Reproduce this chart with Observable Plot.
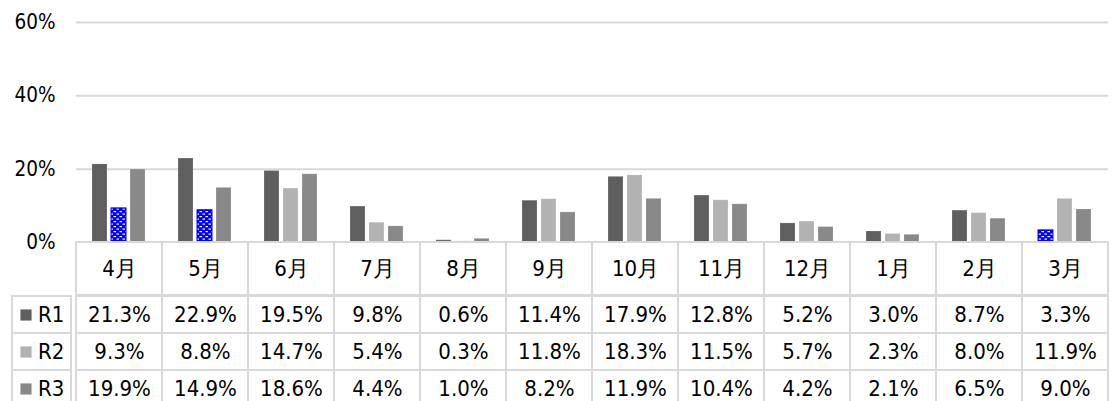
<!DOCTYPE html>
<html><head><meta charset="utf-8">
<script src="https://cdn.jsdelivr.net/npm/d3@7"></script>
<script src="https://cdn.jsdelivr.net/npm/@observablehq/plot@0.6"></script>
<style>
body{margin:0;background:#fff;}
#wrap{position:relative;width:1116px;height:401px;overflow:hidden;}
#wrap svg{position:absolute;overflow:visible;}
#wrap svg text{font-family:"DejaVu Sans Condensed","DejaVu Sans",sans-serif;font-stretch:semi-condensed;}
</style></head><body><div id="wrap"></div>
<script>
const months = ["4月","5月","6月","7月","8月","9月","10月","11月","12月","1月","2月","3月"];
const series = ["R1","R2","R3"];
const r1 = [21.3,22.9,19.5,9.8,0.6,11.4,17.9,12.8,5.2,3.0,8.7,3.3];
const r2 = [9.3,8.8,14.7,5.4,0.3,11.8,18.3,11.5,5.7,2.3,8.0,11.9];
const r3 = [19.9,14.9,18.6,4.4,1.0,8.2,11.9,10.4,4.2,2.1,6.5,9.0];
const yTicks = [0,20,40,60];
const colors = ["#5f5f5f","#b2b2b2","#898989"];
const highlighted = [["4月","R2"],["5月","R2"],["3月","R1"]];

const values = [r1, r2, r3];
const rows = series.flatMap((s,k) => values[k].map((v,i) => ({
  month: months[i], series: s, value: v,
  hi: highlighted.some(([m,ss]) => m === months[i] && ss === s)
})));

const FONT = '"DejaVu Sans Condensed", "DejaVu Sans", sans-serif';
const GRID = "#d9d9d9";
const TXT = 22;
const AX = 20.5;
const wrap = document.getElementById("wrap");
function place(el, left, top){ el.style.left = left+"px"; el.style.top = top+"px"; wrap.appendChild(el); }

const chart = Plot.plot({
  width:1116, height:243, marginLeft:71, marginRight:3, marginTop:22, marginBottom:1,
  style:{fontFamily:FONT, color:"#000", background:"transparent"},
  fx:{domain:months, padding:0, axis:null},
  x:{domain:series, paddingInner:0.2, paddingOuter:0.836, axis:null},
  y:{domain:[0,60], axis:null},
  color:{domain:series, range:colors},
  marks:[
    Plot.ruleY(yTicks.filter(t => t > 0), {stroke:GRID, strokeWidth:2}),
    Plot.text(yTicks, {fx:() => months[0], y:d => d, text:d => d+"%", frameAnchor:"left", textAnchor:"end", dx:-21, fontSize:AX, fill:"#000"}),
    Plot.barY(rows.filter(d => !d.hi), {fx:"month", x:"series", y:"value", fill:"series", stroke:"#ffffff", strokeOpacity:0.18, strokeWidth:1}),
    Plot.barY(rows.filter(d => d.hi), {fx:"month", x:"series", y:"value", fill:"url(#blueDash)", stroke:"#0000ff", strokeWidth:1})
  ]
});
d3.select(chart).insert("defs", ":first-child").html(
  '<pattern id="blueDash" width="6" height="5" patternUnits="userSpaceOnUse">' +
  '<rect width="6" height="5" fill="#0000ff"/>' +
  '<rect x="0.5" y="1" width="2.5" height="1.2" fill="#ffffff"/>' +
  '<rect x="3.5" y="3.5" width="2.5" height="1.2" fill="#ffffff"/>' +
  '</pattern>');
place(chart, 0, 0);

const header = Plot.plot({
  width:1116, height:53, marginLeft:71, marginRight:3, marginTop:0, marginBottom:0,
  style:{fontFamily:FONT, color:"#000", background:"transparent"},
  x:{domain:months, padding:0, axis:null},
  y:{domain:["header"], padding:0, axis:null},
  marks:[
    Plot.cell(months, {x:d => d, y:() => "header", fill:"none", stroke:GRID, strokeWidth:2}),
    Plot.text(months, {x:d => d, y:() => "header", text:d => d, fontSize:TXT, fill:"#000"})
  ]
});
place(header, 0, 242);

const keyCol = Plot.plot({
  width:71, height:112, marginLeft:12, marginRight:0, marginTop:0, marginBottom:0,
  style:{fontFamily:FONT, color:"#000", background:"transparent"},
  x:{domain:["key"], padding:0, axis:null},
  y:{domain:series, padding:0, axis:null},
  color:{domain:series, range:colors},
  marks:[
    Plot.cell(series, {x:() => "key", y:d => d, fill:"none", stroke:GRID, strokeWidth:2}),
    Plot.dot(series, {x:() => "key", y:d => d, symbol:"square", r:6.3, fill:d => d, dx:-16}),
    Plot.text(series, {x:() => "key", y:d => d, text:d => d, fontSize:TXT, fill:"#000", textAnchor:"start", dx:-4})
  ]
});
place(keyCol, 0, 295);

const body = Plot.plot({
  width:1045, height:112, marginLeft:0, marginRight:3, marginTop:0, marginBottom:0,
  style:{fontFamily:FONT, color:"#000", background:"transparent"},
  x:{domain:months, padding:0, axis:null},
  y:{domain:series, padding:0, axis:null},
  marks:[
    Plot.cell(rows, {x:"month", y:"series", fill:"none", stroke:GRID, strokeWidth:2}),
    Plot.text(rows, {x:"month", y:"series", text:d => d.value.toFixed(1)+"%", fontSize:TXT, fill:"#000"})
  ]
});
place(body, 71, 295);
</script></body></html>
